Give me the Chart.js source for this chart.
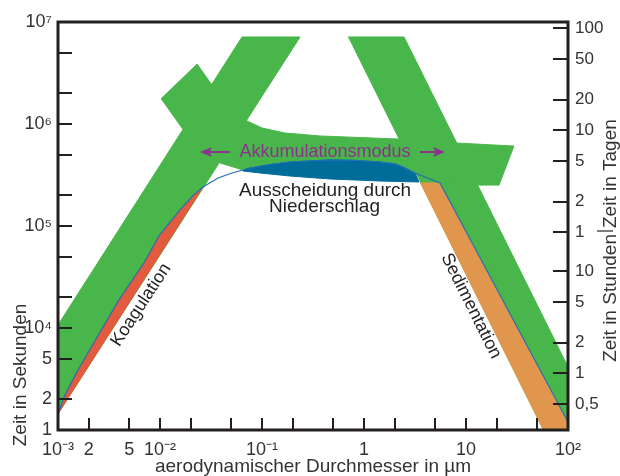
<!DOCTYPE html>
<html>
<head>
<meta charset="utf-8">
<script src="https://cdn.jsdelivr.net/npm/chart.js@4/dist/chart.umd.min.js"></script>
<style>
  html, body { margin: 0; padding: 0; background: #fff; }
  #wrap { width: 620px; height: 476px; }
</style>
</head>
<body>
<div id="wrap"><canvas id="mycanvas" width="620" height="476"></canvas></div>
<script>
// aerodynamic diameter in µm, time in seconds
var coagBand = [[0.001,1.07e4],[0.0637,7.13e6],[0.236,7.13e6],[0.001,1.44e3]];
var sedBand = [[0.697,7.13e6],[2.47,7.13e6],[100,4.15e3],[100,1000],[56.9,1000]];
var accumArm = [[0.0102,1.76e6],[0.0231,3.87e6],[0.0323,2.41e6]];
var accumTop = [[0.0713,1.07e6],[0.1,9.14e5],[0.168,8.16e5],[0.37,7.63e5],[2.15,7.13e5],[7.8,6.52e5],[29.5,6.08e5]];
var accumEnd = [[21.1,2.52e5],[12.8,2.52e5],[5.56,2.64e5]];
var accumLeft = [[0.0387,4.15e5],[0.0168,8.73e5]];

var coagCurve = [[0.001,1.44e3],[0.001158,2154],[0.00157,3873],[0.00233,7625],[0.00396,1.884e4],[0.00705,4.44e4],[0.00977,7.98e4],[0.0157,1.44e5],[0.0213,2.01e5],[0.0264,2.41e5],[0.0371,2.96e5],[0.0508,3.31e5]];
var coagEdge = [[0.001,1.44e3],[0.0264,2.41e5]];
var wetTop = [[0.0651,3.54e5],[0.0763,3.70e5],[0.12,4.01e5],[0.188,4.24e5],[0.464,4.44e5],[0.816,4.39e5],[1.435,4.24e5],[2.01,4.06e5],[2.41,3.78e5],[3.16,3.31e5]];
var wetBottom = [[3.46,2.70e5],[1.435,2.76e5],[0.464,2.89e5],[0.188,3.09e5],[0.0956,3.31e5],[0.0651,3.46e5]];
var sedLine = [[5.56,2.64e5],[100,1.20e3]];
var sedOrange = [[3.54,2.64e5],[5.56,2.64e5],[100,1.20e3],[100,1000],[56.9,1000]];

var xTicks = [0.001,0.002,0.005,0.01,0.02,0.05,0.1,0.2,0.5,1,2,5,10,20,50,100];
var xTickLabels = ['10⁻³','2','5','10⁻²','','','10⁻¹','','','1','','','10','','','10²'];
var yTicks = [1e3,2e3,5e3,1e4,2e4,5e4,1e5,2e5,5e5,1e6,2e6,5e6,1e7];
var yTickLabels = ['1','2','5','10⁴','','','10⁵','','','10⁶','','','10⁷'];
var dayTicks = [100,50,20,10,5,2,1];
var hourTicks = [10,5,2,1,0.5];

var green = '#49b64b';
var purple = '#8c318c';
var ink = '#333333';
var font = "'Liberation Sans', Arial, sans-serif";

Chart.defaults.font.family = font;
Chart.defaults.color = ink;

function pts(list) {
  return list.map(function(p){ return {x: p[0], y: p[1]}; });
}
function area(list, color, order) {
  return { data: pts(list), fill: 'shape', backgroundColor: color, borderColor: color,
           borderWidth: 1, pointRadius: 0, order: order };
}

var accumBand = accumArm.concat(accumTop, accumEnd, wetTop.slice().reverse(), accumLeft);
var coagRed = coagEdge.concat(coagCurve.slice(1, 9).reverse());
var totalLine = coagCurve.concat(wetTop, sedLine);

var rightTicks = dayTicks.map(function(d){ return d * 86400; }).concat(hourTicks.map(function(h){ return h * 3600; }));
var rightLabels = dayTicks.map(String).concat(hourTicks.map(function(h){ return String(h).replace('.', ','); }));

var notes = [
  {text: 'Akkumulationsmodus', at: [0.415, 5.31e5], angle: 0, size: 18, color: purple},
  {text: 'Ausscheidung durch', at: [0.415, 2.20e5], angle: 0, size: 19, color: '#231f20'},
  {text: 'Niederschlag', at: [0.41, 1.53e5], angle: 0, size: 19, color: '#231f20'},
  {text: 'Koagulation', at: [0.00652, 1.68e4], angle: -57, size: 18, color: '#231f20'},
  {text: 'Sedimentation', at: [11.2, 1.64e4], angle: 63.5, size: 18, color: '#231f20'}
];
var arrows = [[0.0485, 0.0247, 5.31e5], [3.54, 6.22, 5.31e5]];

var decor = {
  id: 'decor',
  afterDatasetsDraw: function(chart) {
    var ctx = chart.ctx, a = chart.chartArea;
    var sx = chart.scales.x, sy = chart.scales.y, sy2 = chart.scales.y2;
    ctx.save();

    ctx.textAlign = 'center';
    ctx.textBaseline = 'middle';
    notes.forEach(function(n){
      ctx.save();
      ctx.font = n.size + 'px ' + font;
      ctx.translate(sx.getPixelForValue(n.at[0]), sy.getPixelForValue(n.at[1]));
      ctx.rotate(n.angle * Math.PI / 180);
      ctx.fillStyle = n.color;
      ctx.fillText(n.text, 0, 0);
      ctx.restore();
    });

    ctx.strokeStyle = purple;
    ctx.fillStyle = purple;
    ctx.lineWidth = 2;
    arrows.forEach(function(ar){
      var x1 = sx.getPixelForValue(ar[0]), x2 = sx.getPixelForValue(ar[1]), y = sy.getPixelForValue(ar[2]);
      var dir = x2 > x1 ? 1 : -1;
      ctx.beginPath(); ctx.moveTo(x1, y); ctx.lineTo(x2 - dir * 6, y); ctx.stroke();
      ctx.beginPath();
      ctx.moveTo(x2, y); ctx.lineTo(x2 - dir * 12, y - 5); ctx.lineTo(x2 - dir * 9, y); ctx.lineTo(x2 - dir * 12, y + 5);
      ctx.closePath(); ctx.fill();
    });

    // ticks pointing into the plot
    ctx.strokeStyle = '#231f20';
    ctx.lineWidth = 2;
    ctx.beginPath();
    sx.ticks.forEach(function(t){
      var px = Math.round(sx.getPixelForValue(t.value));
      ctx.moveTo(px, a.bottom); ctx.lineTo(px, a.bottom - 12);
    });
    sy.ticks.forEach(function(t){
      var py = Math.round(sy.getPixelForValue(t.value));
      ctx.moveTo(a.left, py); ctx.lineTo(a.left + 14, py);
    });
    sy2.ticks.forEach(function(t){
      var py = Math.round(sy2.getPixelForValue(t.value));
      ctx.moveTo(a.right, py); ctx.lineTo(a.right - 15, py);
    });
    ctx.stroke();

    ctx.lineWidth = 3;
    ctx.strokeRect(a.left, a.top, a.right - a.left, a.bottom - a.top);

    // side titles
    ctx.fillStyle = ink;
    ctx.font = '19px ' + font;
    ctx.save();
    ctx.translate(21, 375);
    ctx.rotate(-Math.PI / 2);
    ctx.textAlign = 'center';
    ctx.fillText('Zeit in Sekunden', 0, 0);
    ctx.restore();

    ctx.save();
    ctx.translate(611, 231);
    ctx.rotate(-Math.PI / 2);
    ctx.textAlign = 'right';
    ctx.fillText('Zeit in Stunden', -3, 0);
    ctx.textAlign = 'left';
    ctx.fillText('Zeit in Tagen', 3, 0);
    ctx.restore();
    ctx.strokeStyle = ink;
    ctx.lineWidth = 1.3;
    ctx.beginPath();
    ctx.moveTo(597, 231); ctx.lineTo(613, 231);
    ctx.stroke();

    ctx.restore();
  }
};

var ctx = document.getElementById('mycanvas');

var chart = new Chart(ctx, {
  type: 'line',
  data: {
    datasets: [
      { data: pts(totalLine), fill: false, borderColor: '#1f70b6', borderWidth: 1.2, pointRadius: 0, order: 1 },
      area(coagRed, '#e45a3f', 2),
      area(sedOrange, '#e0964d', 2),
      area(wetTop.concat(wetBottom), '#006c9a', 2),
      area(coagBand, green, 3),
      area(accumBand, green, 3),
      area(sedBand, green, 3)
    ]
  },
  options: {
    responsive: false,
    animation: false,
    layout: { padding: { top: 22, left: 0, right: 0, bottom: 0 } },
    plugins: { legend: { display: false }, tooltip: { enabled: false } },
    scales: {
      x: {
        type: 'logarithmic', position: 'bottom', min: 0.001, max: 100,
        afterFit: function(s){ s.height = 46; },
        afterBuildTicks: function(s){ s.ticks = xTicks.map(function(v){ return {value: v}; }); },
        ticks: { autoSkip: false, maxRotation: 0, padding: 9, font: { size: 18 },
                 callback: function(v, i){ return xTickLabels[i]; } },
        grid: { display: false, drawTicks: false }, border: { display: false },
        title: { display: true, text: 'aerodynamischer Durchmesser in µm', font: { size: 19, lineHeight: 1 }, padding: { top: 0, bottom: 0 } }
      },
      y: {
        type: 'logarithmic', position: 'left', min: 1000, max: 1e7,
        afterFit: function(s){ s.width = 58; },
        afterBuildTicks: function(s){ s.ticks = yTicks.map(function(v){ return {value: v}; }); },
        ticks: { autoSkip: false, padding: 6, font: { size: 18 },
                 callback: function(v, i){ return yTickLabels[i]; } },
        grid: { display: false, drawTicks: false }, border: { display: false }
      },
      y2: {
        type: 'logarithmic', position: 'right', min: 1000, max: 1e7,
        afterFit: function(s){ s.width = 52; },
        afterBuildTicks: function(s){ s.ticks = rightTicks.map(function(v){ return {value: v}; }); },
        ticks: { autoSkip: false, padding: 7, font: { size: 17 },
                 callback: function(v, i){ return rightLabels[i]; } },
        grid: { display: false, drawTicks: false }, border: { display: false }
      }
    }
  },
  plugins: [decor]
});
</script>
</body>
</html>
